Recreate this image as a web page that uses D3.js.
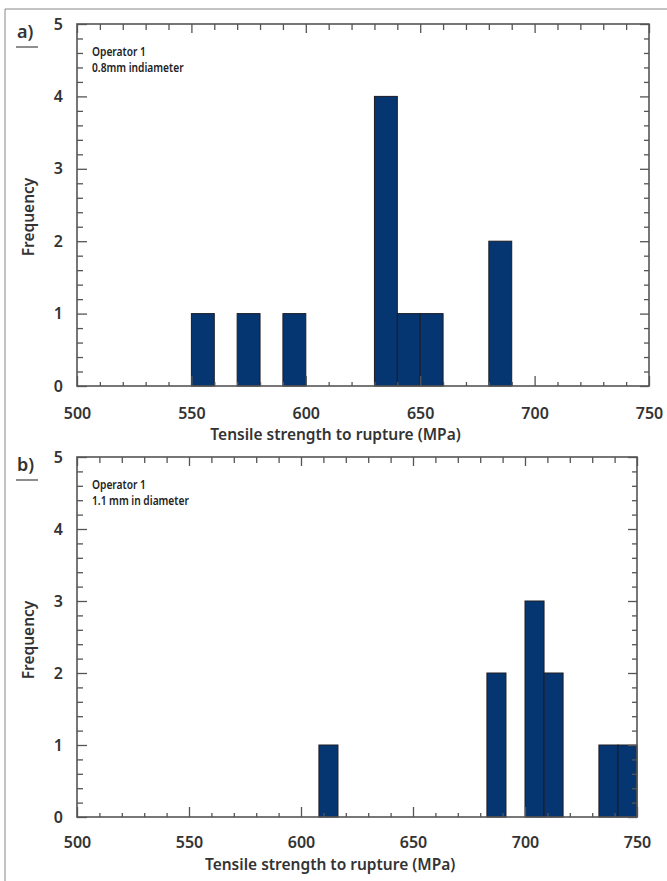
<!DOCTYPE html>
<html>
<head>
<meta charset="utf-8">
<script src="https://cdn.jsdelivr.net/npm/d3@7"></script>
<style>
  html, body { margin: 0; padding: 0; background: #fff; }
  svg { display: block; }
  .tick-lbl { font-family: "Noto Sans", "DejaVu Sans", sans-serif; font-size: 16px; font-weight: 600; fill: #333; }
  .ax-title { font-family: "Noto Sans", "DejaVu Sans", sans-serif; font-size: 15.5px; font-weight: 600; fill: #333; }
  .note { font-family: "Noto Sans", "DejaVu Sans", sans-serif; font-size: 12px; font-weight: 600; fill: #222; }
  .panel-lbl { font-family: "Noto Sans", "DejaVu Sans", sans-serif; font-size: 18px; font-weight: 600; fill: #333; }
</style>
</head>
<body>
<div id="chart"></div>
<script>
// histogram values
const xTicks = [500, 550, 600, 650, 700, 750];
const yTicks = [0, 1, 2, 3, 4, 5];

// panel a) 0.8 mm
const binLoA = [550, 570, 590, 630, 640, 650, 680];
const binHiA = [560, 580, 600, 640, 650, 660, 690];
const countA = [1, 1, 1, 4, 1, 1, 2];
const notesA = ["Operator 1", "0.8mm indiameter"];

// panel b) 1.1 mm
const binLoB = [608, 683, 700, 708.5, 733, 741.5];
const binHiB = [616.5, 691.5, 708.5, 717, 741.5, 750];
const countB = [1, 2, 3, 2, 1, 1];
const notesB = ["Operator 1", "1.1 mm in diameter"];

const W = 667, H = 881;
const svg = d3.select("#chart").append("svg")
    .attr("width", W)
    .attr("height", H);

// outer frame of the figure
svg.append("path")
    .attr("d", `M5,${H} L5,9 L${W},9`)
    .attr("fill", "none")
    .attr("stroke", "#888")
    .attr("stroke-width", 1);

function drawPanel(opt){
    let g = svg.append("g");

    let x = d3.scaleLinear().domain([500, 750]).range([opt.left, opt.right]);
    let y = d3.scaleLinear().domain([0, 5]).range([opt.bottom, opt.top]);

    let minorX = d3.range(500, 751, 10).filter(v => v % 50 != 0);
    let minorY = d3.range(0, 5.01, 0.2).filter(v => Math.abs(v - Math.round(v)) > 0.01);

    // bars
    let bars = opt.lo.map((lo, i) => ({lo: lo, hi: opt.hi[i], n: opt.count[i]}));
    g.selectAll("rect.bar")
        .data(bars)
        .join("rect")
        .attr("class", "bar")
        .attr("x", d => x(d.lo))
        .attr("width", d => x(d.hi) - x(d.lo))
        .attr("y", d => y(d.n))
        .attr("height", d => y(0) - y(d.n))
        .attr("fill", "#063671")
        .attr("stroke", "#1c1c24")
        .attr("stroke-width", 1);

    // ticks all pointing inward, major + minor on every side
    let tickStyle = sel => {
        sel.select(".domain").remove();
        sel.selectAll("line").attr("stroke", "#555").attr("stroke-width", 1.3);
    };

    g.append("g").attr("transform", `translate(0,${opt.bottom})`)
        .call(d3.axisBottom(x).tickValues(minorX).tickSize(-4).tickFormat(""))
        .call(tickStyle);
    g.append("g").attr("transform", `translate(0,${opt.bottom})`)
        .call(d3.axisBottom(x).tickValues(xTicks).tickSize(-10).tickPadding(opt.lblPad).tickFormat(d3.format("d")))
        .call(tickStyle)
        .selectAll("text").attr("class", "tick-lbl").attr("dy", 0);

    g.append("g").attr("transform", `translate(0,${opt.top})`)
        .call(d3.axisTop(x).tickValues(minorX).tickSize(-6).tickFormat(""))
        .call(tickStyle);
    g.append("g").attr("transform", `translate(0,${opt.top})`)
        .call(d3.axisTop(x).tickValues(xTicks).tickSize(-9).tickFormat(""))
        .call(tickStyle);

    g.append("g").attr("transform", `translate(${opt.left},0)`)
        .call(d3.axisLeft(y).tickValues(minorY).tickSize(-6).tickFormat(""))
        .call(tickStyle);
    g.append("g").attr("transform", `translate(${opt.left},0)`)
        .call(d3.axisLeft(y).tickValues(yTicks).tickSize(-10).tickPadding(14).tickFormat(d3.format("d")))
        .call(tickStyle)
        .selectAll("text").attr("class", "tick-lbl").attr("x", -14);

    g.append("g").attr("transform", `translate(${opt.right},0)`)
        .call(d3.axisRight(y).tickValues(minorY).tickSize(-5).tickFormat(""))
        .call(tickStyle);
    g.append("g").attr("transform", `translate(${opt.right},0)`)
        .call(d3.axisRight(y).tickValues(yTicks).tickSize(-9).tickFormat(""))
        .call(tickStyle);

    // plot box
    g.append("rect")
        .attr("x", opt.left).attr("y", opt.top)
        .attr("width", opt.right - opt.left)
        .attr("height", opt.bottom - opt.top)
        .attr("fill", "none")
        .attr("stroke", "#555")
        .attr("stroke-width", 1.6);

    // axis titles (the x title sits a little left of the plot centre)
    g.append("text")
        .attr("class", "ax-title")
        .attr("x", x(613))
        .attr("y", opt.bottom + opt.titlePad)
        .attr("text-anchor", "middle")
        .text("Tensile strength to rupture (MPa)");

    g.append("text")
        .attr("class", "ax-title")
        .attr("transform", `translate(34,${(opt.top + opt.bottom) / 2 + opt.freqShift}) rotate(-90)`)
        .attr("text-anchor", "middle")
        .text("Frequency");

    // notes inside plot, slightly condensed
    g.append("g")
        .attr("transform", `translate(${opt.left + 15},${opt.top + 32}) scale(0.85,1)`)
        .selectAll("text")
        .data(opt.notes)
        .join("text")
        .attr("class", "note")
        .attr("x", 0)
        .attr("y", (d, i) => i * 16.5)
        .text(d => d);

    // panel letter with underline
    g.append("text")
        .attr("class", "panel-lbl")
        .attr("x", 17)
        .attr("y", opt.top + 14)
        .text(opt.letter);
    g.append("line")
        .attr("x1", 16).attr("x2", 38)
        .attr("y1", opt.top + 23).attr("y2", opt.top + 23)
        .attr("stroke", "#444")
        .attr("stroke-width", 1.2);
}

drawPanel({left: 77, right: 649, top: 24, bottom: 386, lblPad: 33, titlePad: 54, freqShift: 12,
    lo: binLoA, hi: binHiA, count: countA, notes: notesA, letter: "a)"});
drawPanel({left: 77, right: 637, top: 457, bottom: 817, lblPad: 31, titlePad: 53, freqShift: 3,
    lo: binLoB, hi: binHiB, count: countB, notes: notesB, letter: "b)"});
</script>
</body>
</html>
